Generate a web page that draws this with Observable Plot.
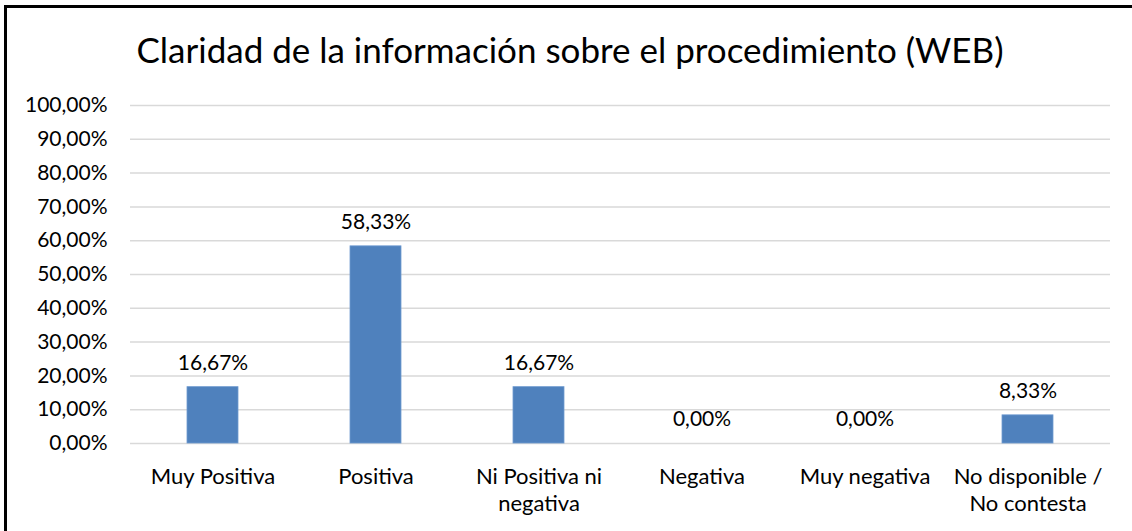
<!DOCTYPE html>
<html>
<head>
<meta charset="utf-8">
<script src="https://cdn.jsdelivr.net/npm/d3@7"></script>
<script src="https://cdn.jsdelivr.net/npm/@observablehq/plot@0.6"></script>
<style>
  html, body { margin: 0; padding: 0; background: #fff; }
  body { width: 1132px; height: 531px; overflow: hidden; position: relative; font-family: Lato, "Noto Sans", sans-serif; }
  #frame { position: absolute; left: 4px; top: 5px; width: 1200px; height: 600px; border-left: 3px solid #000; border-top: 3px solid #000; box-sizing: border-box; pointer-events: none; }
  #title { position: absolute; left: 4px; top: 0; width: 1132px; height: 100px; line-height: 99px; text-align: center; font-size: 35px; color: #000; white-space: nowrap; }
  #chart { position: absolute; left: 0; top: 90px; }
</style>
</head>
<body>
<div id="title">Claridad de la información sobre el procedimiento (WEB)</div>
<div id="chart"></div>
<div id="frame"></div>
<script>
const categories = ["Muy Positiva", "Positiva", "Ni Positiva ni\nnegativa", "Negativa", "Muy negativa", "No disponible /\nNo contesta"];
const values = [16.67, 58.33, 16.67, 0.00, 0.00, 8.33];
const yTicks = [0, 10, 20, 30, 40, 50, 60, 70, 80, 90, 100];

const data = categories.map((c, i) => ({category: c, value: values[i]}));
const fmt = v => v.toFixed(2).replace(".", ",") + "%";

const chart = Plot.plot({
  width: 1132,
  height: 441,
  marginTop: 15,
  marginBottom: 88,
  marginLeft: 130,
  marginRight: 22,
  style: {fontFamily: "Lato, 'Noto Sans', sans-serif", fontSize: "21px", color: "#000", background: "transparent", overflow: "visible"},
  x: {domain: categories, paddingInner: 0.69, paddingOuter: 0.345, label: null},
  y: {domain: [0, 100], label: null},
  marks: [
    Plot.gridY(yTicks, {stroke: "#d9d9d9", strokeOpacity: 1, strokeWidth: 1.5}),
    Plot.barY(data, {x: "category", y: "value", fill: "#4f81bd", stroke: "#6f9bd0", strokeWidth: 0.8}),
    Plot.text(data, {x: "category", y: "value", text: d => fmt(d.value), dy: -24, fill: "#000", fontSize: 21}),
    Plot.axisY({ticks: yTicks, tickSize: 0, tickPadding: 23, tickFormat: fmt, label: null, fontSize: 21}),
    Plot.axisX({tickSize: 0, tickPadding: 21, lineHeight: 1.23, label: null, fontSize: 22})
  ]
});
document.getElementById("chart").appendChild(chart);
</script>
</body>
</html>
